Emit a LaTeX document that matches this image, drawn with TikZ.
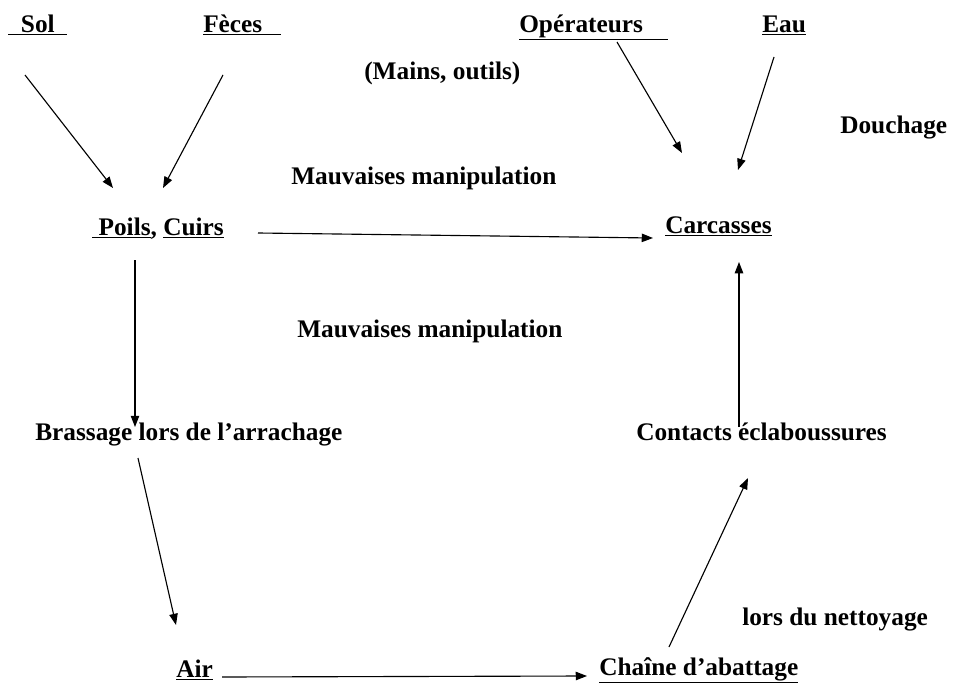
\documentclass[tikz,border=0pt]{standalone}
\usepackage{fontspec}
\setmainfont{Liberation Serif}
\usepackage{tikz}
\usetikzlibrary{arrows.meta, positioning}
\tikzstyle{txt} = [inner sep=0pt, anchor=base west, font=\fontsize{18}{20}\selectfont\bfseries]
\tikzstyle{arrow} = [line width=0.8pt, -{Triangle[length=8pt,width=6pt]}]

\begin{document}
\begin{tikzpicture}[x=0.025cm, y=-0.025cm]
            \useasboundingbox (0,0) rectangle (956,684);
            \node (sol) [txt] at (8,32) {\underline{\ \ Sol\ \ }};
            \node (feces) [txt] at (203,32) {\underline{F\`eces\ \ \ }};
            \node (oper) [txt] at (519,32) {\underline{Op\'erateurs\ \ \ \ }};
            \node (eau) [txt] at (762,32) {\underline{Eau}};
            \node (mains) [txt] at (364,79) {(Mains, outils)};
            \node (douchage) [txt] at (840,133) {Douchage};
            \node (manip1) [txt] at (291,184) {Mauvaises manipulation};
            \node (poils) [txt] at (92,235) {\underline{\ Poils}, \underline{Cuirs}};
            \node (carcasses) [txt] at (665,233) {\underline{Carcasses}};
            \node (manip2) [txt] at (297,337) {Mauvaises manipulation};
            \node (brassage) [txt] at (35,440) {Brassage lors de l'arrachage};
            \node (contacts) [txt] at (636,440) {Contacts \'eclaboussures};
            \node (nettoyage) [txt] at (742,625) {lors du nettoyage};
            \node (air) [txt] at (176,677) {\underline{Air}};
            \node (chaine) [txt] at (599,675) {\underline{Cha\^ine d'abattage}};

            \draw [arrow] ([shift={(17,43)}]sol.base west) -- ([shift={(21,-47)}]poils.base west);
            \draw [arrow] ([shift={(20,43)}]feces.base west) -- ([shift={(71,-47)}]poils.base west);
            \draw [arrow] ([shift={(98,10)}]oper.base west) -- ([shift={(17,-80)}]carcasses.base west);
            \draw [arrow] ([shift={(12,25)}]eau.base west) -- ([shift={(73,-63)}]carcasses.base west);
            \draw [arrow] ([shift={(166,-2)}]poils.base west) -- ([shift={(-12,5)}]carcasses.base west);
            \draw [arrow] ([shift={(43,25)}]poils.base west) -- ([shift={(100,-13)}]brassage.base west);
            \draw [arrow] ([shift={(103,18)}]brassage.base west) -- ([shift={(0,-52)}]air.base west);
            \draw [arrow] ([shift={(46,0)}]air.base west) -- ([shift={(-12,1)}]chaine.base west);
            \draw [arrow] ([shift={(70,-28)}]chaine.base west) -- ([shift={(112,38)}]contacts.base west);
            \draw [arrow] ([shift={(103,-13)}]contacts.base west) -- ([shift={(74,29)}]carcasses.base west);

            \end{tikzpicture}
\end{document}
